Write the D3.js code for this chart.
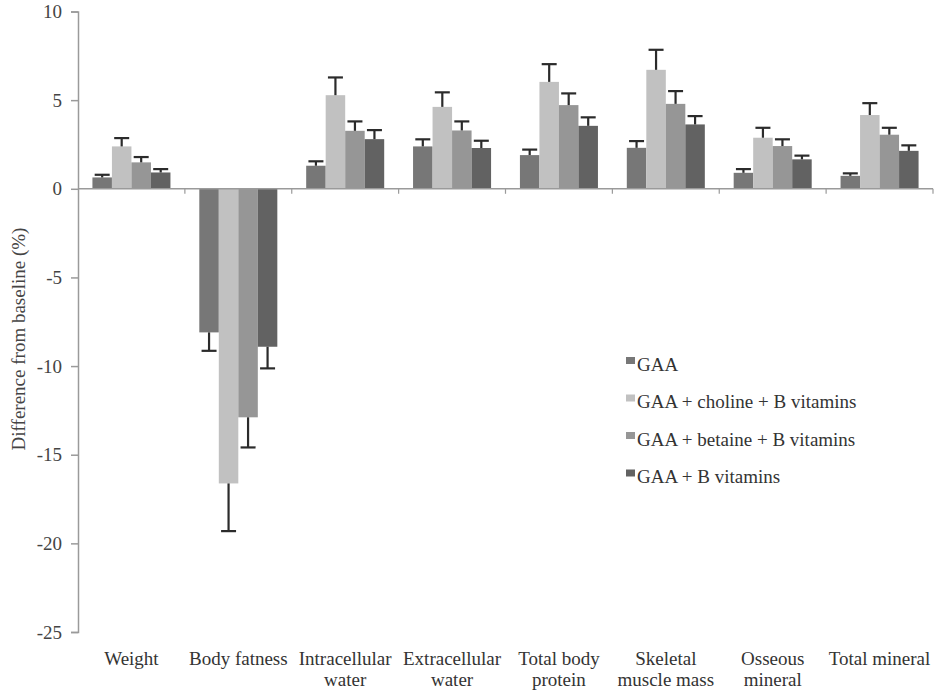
<!DOCTYPE html>
<html>
<head>
<meta charset="utf-8">
<script src="https://cdn.jsdelivr.net/npm/d3@7"></script>
<style>
  html, body { margin: 0; padding: 0; background: #fff; }
  svg { display: block; font-family: "Liberation Serif", "Times New Roman", serif; }
</style>
</head>
<body>
<svg id="chart" width="934" height="690"></svg>
<script>
// Body composition outcomes, % change from baseline
const categories = [
  ["Weight"],
  ["Body fatness"],
  ["Intracellular", "water"],
  ["Extracellular", "water"],
  ["Total body", "protein"],
  ["Skeletal", "muscle mass"],
  ["Osseous", "mineral"],
  ["Total mineral"]
];
const seriesNames = [
  "GAA",
  "GAA + choline + B vitamins",
  "GAA + betaine + B vitamins",
  "GAA + B vitamins"
];
const gaaMean     = [0.64, -8.10, 1.30, 2.39, 1.90, 2.31, 0.90, 0.73];
const gaaErr      = [0.15,  1.04, 0.25, 0.40, 0.31, 0.38, 0.21, 0.14];
const cholineMean = [2.39, -16.62, 5.28, 4.62, 6.03, 6.71, 2.88, 4.16];
const cholineErr  = [0.47,  2.69, 1.00, 0.82, 1.00, 1.13, 0.56, 0.67];
const betaineMean = [1.49, -12.89, 3.27, 3.29, 4.72, 4.79, 2.41, 3.05];
const betaineErr  = [0.30,  1.70, 0.53, 0.51, 0.66, 0.72, 0.38, 0.39];
const bvitMean    = [0.92, -8.91, 2.80, 2.30, 3.55, 3.63, 1.66, 2.14];
const bvitErr     = [0.19,  1.22, 0.51, 0.41, 0.48, 0.47, 0.21, 0.31];
const yTicks = [10, 5, 0, -5, -10, -15, -20, -25];

const means = [gaaMean, cholineMean, betaineMean, bvitMean];
const errs  = [gaaErr, cholineErr, betaineErr, bvitErr];
const colors = ["#777777", "#c1c1c1", "#969696", "#626262"];

const svg = d3.select("#chart");
const plotLeft = 78, plotRight = 933, plotTop = 11.5, plotBottom = 632;

const x0 = d3.scaleBand().domain(d3.range(categories.length)).range([plotLeft, plotRight]).padding(0);
const groupW = x0.bandwidth() * 0.73;
const x1 = d3.scaleBand().domain(d3.range(seriesNames.length))
  .range([(x0.bandwidth() - groupW) / 2, (x0.bandwidth() + groupW) / 2]).padding(0);
const y = d3.scaleLinear().domain([-25, 10]).range([plotBottom, plotTop]);

// flattened records for drawing
const rows = [];
categories.forEach((c, i) => {
  seriesNames.forEach((s, j) => {
    rows.push({ cat: i, ser: j, v: means[j][i], e: errs[j][i] });
  });
});

// y axis (plain hyphen for negatives)
const yAxis = svg.append("g").attr("transform", `translate(${plotLeft},0)`)
  .call(d3.axisLeft(y).tickValues(yTicks).tickSize(7).tickFormat(d => String(d)));
yAxis.attr("font-family", "Liberation Serif, serif");
yAxis.select(".domain").attr("stroke", "#9a9a9a").attr("stroke-width", 1.5);
yAxis.selectAll(".tick line").attr("stroke", "#9a9a9a").attr("stroke-width", 1.5);
yAxis.selectAll(".tick text")
  .attr("x", -16)
  .attr("fill", "#444")
  .style("font-size", "19px");

// y axis title
svg.append("text")
  .attr("transform", "translate(25,339) rotate(-90)")
  .attr("text-anchor", "middle")
  .attr("fill", "#444")
  .style("font-size", "19px")
  .text("Difference from baseline (%)");

// bars
const gBars = svg.append("g");
gBars.selectAll("rect").data(rows).join("rect")
  .attr("x", d => x0(d.cat) + x1(d.ser))
  .attr("width", x1.bandwidth())
  .attr("y", d => Math.min(y(d.v), y(0)))
  .attr("height", d => Math.abs(y(d.v) - y(0)))
  .attr("fill", d => colors[d.ser]);

// one-sided error bars
const capW = 15;
const gErr = svg.append("g").attr("stroke", "#2b2b2b").attr("stroke-width", 2.2);
rows.forEach(d => {
  const cx = x0(d.cat) + x1(d.ser) + x1.bandwidth() / 2;
  const end = d.v >= 0 ? d.v + d.e : d.v - d.e;
  gErr.append("line").attr("x1", cx).attr("x2", cx).attr("y1", y(d.v)).attr("y2", y(end));
  gErr.append("line").attr("x1", cx - capW / 2).attr("x2", cx + capW / 2).attr("y1", y(end)).attr("y2", y(end));
});

// zero line with category boundary ticks
const gx = svg.append("g").attr("transform", `translate(0,${y(0)})`);
gx.append("line").attr("x1", plotLeft).attr("x2", plotRight).attr("stroke", "#9a9a9a").attr("stroke-width", 1.5);
gx.selectAll("line.tk").data(d3.range(1, categories.length + 1)).join("line")
  .attr("class", "tk")
  .attr("x1", i => plotLeft + i * x0.bandwidth()).attr("x2", i => plotLeft + i * x0.bandwidth())
  .attr("y1", 0).attr("y2", 5)
  .attr("stroke", "#9a9a9a").attr("stroke-width", 1.2);

// category labels
const gLab = svg.append("g").attr("fill", "#333").style("font-size", "19px");
categories.forEach((lines, i) => {
  const t = gLab.append("text")
    .attr("text-anchor", "middle")
    .attr("x", x0(i) + x0.bandwidth() / 2)
    .attr("y", 665);
  lines.forEach((ln, k) => {
    t.append("tspan").attr("x", x0(i) + x0.bandwidth() / 2).attr("dy", k === 0 ? 0 : 21).text(ln);
  });
});

// legend
const legY = [364, 401.5, 439, 476.5];
const gLeg = svg.append("g");
seriesNames.forEach((s, j) => {
  gLeg.append("rect").attr("x", 626).attr("y", legY[j] - 7).attr("width", 9).attr("height", 7).attr("fill", colors[j]);
  gLeg.append("text").attr("x", 637).attr("y", legY[j]).attr("dy", "0.35em")
    .attr("fill", "#333").style("font-size", "19px").text(s);
});
</script>
</body>
</html>
